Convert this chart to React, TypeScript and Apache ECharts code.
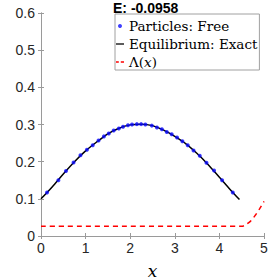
import React, { useEffect, useRef } from "react";
import * as echarts from "echarts";

const titleText = "E: -0.0958";
const xTicks = [0, 1, 2, 3, 4, 5];
const yTickStep = 0.1;

const particlesX = [0.135, 0.39, 0.56, 0.73, 0.885, 1.03, 1.16, 1.29, 1.41, 1.52, 1.63, 1.745, 1.84, 1.95, 2.04, 2.15, 2.245, 2.34, 2.485, 2.6, 2.71, 2.82, 2.93, 3.05, 3.17, 3.29, 3.42, 3.56, 3.71, 3.88, 4.06, 4.3];
const particlesY = [0.117, 0.15, 0.175, 0.198, 0.217, 0.232, 0.244, 0.257, 0.268, 0.276, 0.284, 0.289, 0.294, 0.298, 0.3, 0.301, 0.301, 0.3, 0.297, 0.292, 0.287, 0.28, 0.274, 0.265, 0.255, 0.244, 0.23, 0.216, 0.197, 0.176, 0.15, 0.117];

const equilibriumX = [0, 0.25, 0.5, 0.75, 1.0, 1.25, 1.5, 1.75, 2.0, 2.25, 2.5, 2.75, 3.0, 3.25, 3.5, 3.75, 4.0, 4.25, 4.45];
const equilibriumY = [0.1, 0.132, 0.167, 0.2, 0.229, 0.253, 0.275, 0.29, 0.299, 0.301, 0.297, 0.285, 0.268, 0.248, 0.222, 0.192, 0.158, 0.124, 0.098];

const lambdaX = [0, 4.5, 4.6, 4.7, 4.8, 4.9, 5.0];
const lambdaY = [0.026, 0.026, 0.031, 0.04, 0.055, 0.073, 0.093];

const seriesNames = ["Particles: Free", "Equilibrium: Exact", "Λ(x)"];

const zip = (xs: number[], ys: number[]) => xs.map((x, i) => [x, ys[i]]);

export default function App() {
  const ref = useRef<HTMLDivElement>(null);
  useEffect(() => {
    if (!ref.current) return;
    const chart = echarts.init(ref.current, null, { renderer: "svg" });
    const axisColor = "#9a9a9a";
    const labelColor = "#262626";
    const sans = "'Liberation Sans', Arial, sans-serif";
    const serif = "'DejaVu Serif', serif";
    chart.setOption({
      animation: false,
      backgroundColor: "#ffffff",
      title: {
        text: titleText,
        left: 113,
        top: 1,
        padding: 0,
        textStyle: { fontFamily: sans, fontWeight: "bold", fontSize: 14, color: "#000", lineHeight: 14 },
      },
      grid: { left: 41, right: 15, top: 13, bottom: 43, outerBoundsMode: "none", containLabel: false },
      legend: {
        orient: "vertical",
        left: 115,
        top: 14,
        padding: [5, 2, 1, 1],
        itemGap: 4,
        itemWidth: 8,
        itemHeight: 4,
        backgroundColor: "#ffffff",
        borderColor: "#a0a0a0",
        borderWidth: 1,
        data: [
          { name: seriesNames[0], icon: "circle", itemStyle: { color: "#1010ff", borderWidth: 0 } },
          { name: seriesNames[1], icon: "path://M0,0h10v1.6h-10z", itemStyle: { color: "#000000" } },
          { name: seriesNames[2], icon: "path://M0,0h3.5v1.6h-3.5z M6,0h4v1.6h-4z", itemStyle: { color: "#ff0000" } },
        ],
        formatter: (name: string) =>
          name === "Λ(x)" ? "{n|Λ(}{i|x}{n|)}" : "{n|" + name + "}",
        textStyle: {
          fontFamily: serif,
          fontSize: 13.5,
          color: "#000",
          rich: {
            n: { fontFamily: serif, fontSize: 13.5, color: "#000", lineHeight: 15 },
            i: { fontFamily: serif, fontSize: 13.5, fontStyle: "italic", color: "#000", lineHeight: 15 },
          },
        },
      },
      xAxis: [
        {
          type: "value",
          min: xTicks[0],
          max: xTicks[xTicks.length - 1],
          interval: 1,
          name: "x",
          nameLocation: "middle",
          nameGap: 26,
          nameTextStyle: { fontFamily: serif, fontStyle: "italic", fontSize: 17, color: "#000" },
          axisLine: { show: true, lineStyle: { color: axisColor, width: 1 } },
          axisTick: { show: true, inside: true, length: 3, lineStyle: { color: axisColor } },
          axisLabel: { color: labelColor, fontFamily: sans, fontSize: 14, margin: 5 },
          splitLine: { show: false },
        },
        {
          type: "value",
          position: "top",
          min: xTicks[0],
          max: xTicks[xTicks.length - 1],
          interval: 1,
          axisLine: { show: true, lineStyle: { color: axisColor, width: 1 } },
          axisTick: { show: true, inside: true, length: 3, lineStyle: { color: axisColor } },
          axisLabel: { show: false },
          splitLine: { show: false },
        },
      ],
      yAxis: [
        {
          type: "value",
          min: 0,
          max: 0.6,
          interval: yTickStep,
          axisLine: { show: true, lineStyle: { color: axisColor, width: 1 } },
          axisTick: { show: true, inside: true, length: 3, lineStyle: { color: axisColor } },
          axisLabel: { color: labelColor, fontFamily: sans, fontSize: 14, margin: 6, formatter: (v: number) => String(Math.round(v * 10) / 10) },
          splitLine: { show: false },
        },
        {
          type: "value",
          position: "right",
          min: 0,
          max: 0.6,
          interval: yTickStep,
          axisLine: { show: true, lineStyle: { color: axisColor, width: 1 } },
          axisTick: { show: true, inside: true, length: 3, lineStyle: { color: axisColor } },
          axisLabel: { show: false },
          splitLine: { show: false },
        },
      ],
      series: [
        {
          name: seriesNames[1],
          type: "line",
          data: zip(equilibriumX, equilibriumY),
          smooth: 0.3,
          symbol: "none",
          lineStyle: { color: "#000000", width: 1.5 },
          itemStyle: { color: "#000000" },
          z: 2,
        },
        {
          name: seriesNames[0],
          type: "scatter",
          data: zip(particlesX, particlesY),
          symbol: "circle",
          symbolSize: 4,
          itemStyle: { color: "#0a0aff", borderWidth: 0 },
          z: 3,
        },
        {
          name: seriesNames[2],
          type: "line",
          data: zip(lambdaX, lambdaY),
          smooth: 0.3,
          symbol: "none",
          lineStyle: { color: "#ff0000", width: 1.5, type: [5, 4] },
          itemStyle: { color: "#ff0000" },
          z: 2,
        },
      ],
    });
    return () => chart.dispose();
  }, []);
  return <div ref={ref} style={{ width: 279, height: 279, position: "absolute", left: 0, top: 0 }} />;
}
